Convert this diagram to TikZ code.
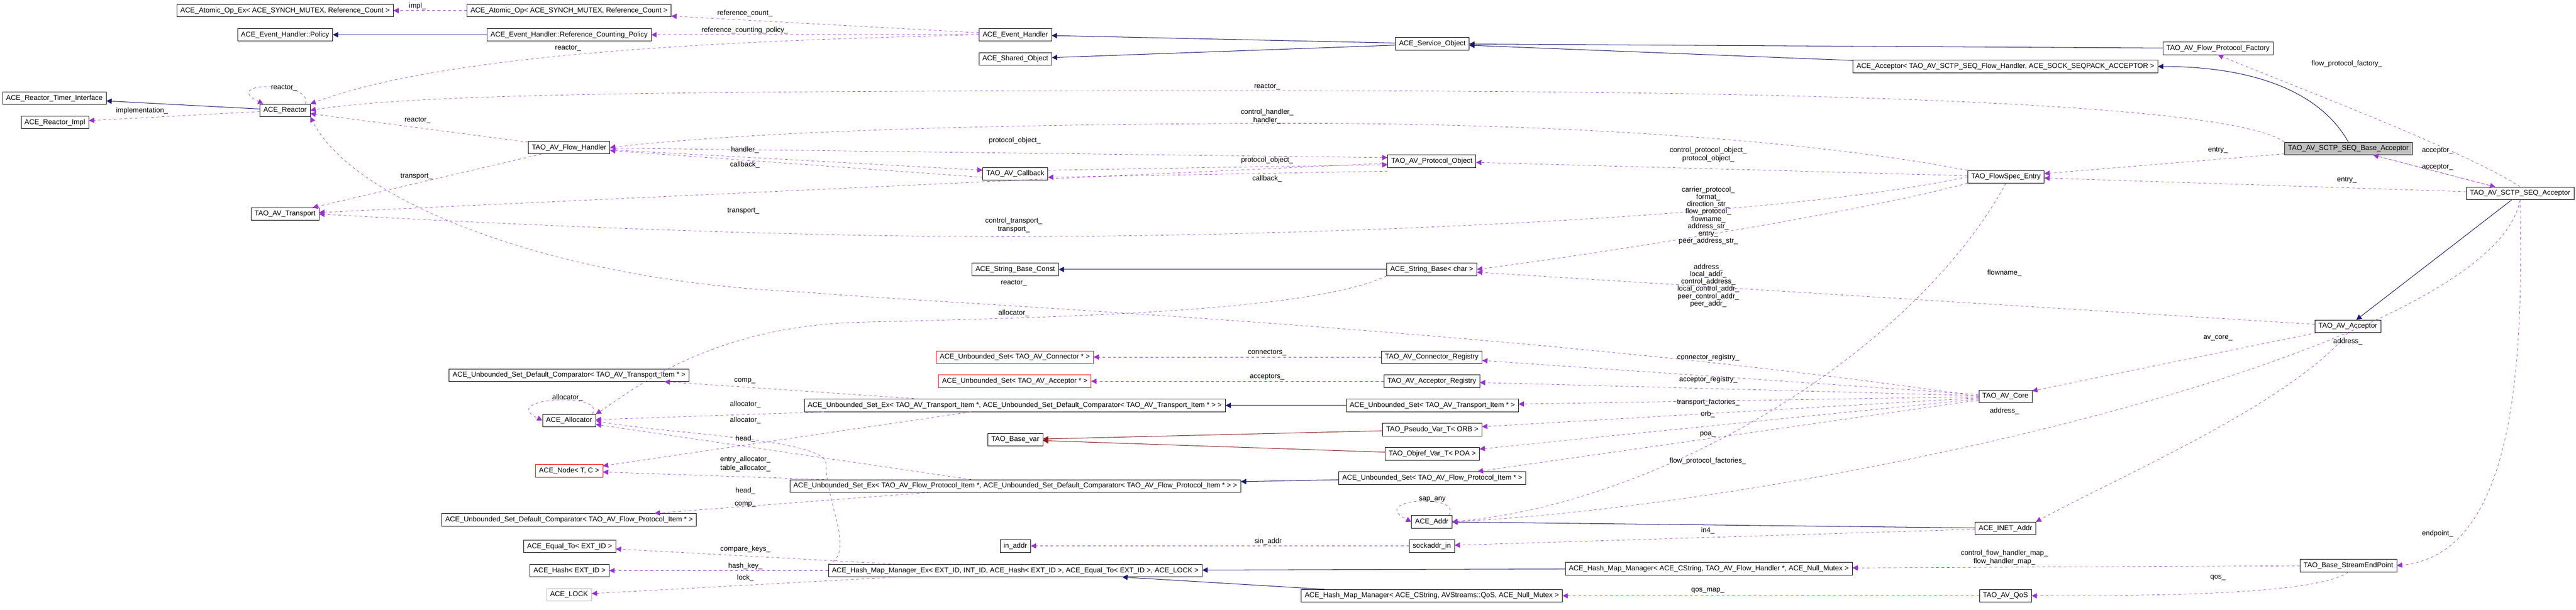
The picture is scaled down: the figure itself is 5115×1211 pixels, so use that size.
\documentclass[tikz,border=0pt]{standalone}
\usepackage{fontspec}
\setmainfont{Liberation Sans}
\usetikzlibrary{arrows.meta}
\definecolor{usecol}{HTML}{9A32CD}
\definecolor{inhcol}{HTML}{191970}
\definecolor{tplcol}{HTML}{8B1A1A}
\begin{document}
\begin{tikzpicture}[x=0.02cm, y=-0.02cm,
    every node/.style={font=\fontsize{8}{9.5}\selectfont},
    cls/.style={rectangle, draw, inner xsep=4pt, inner ysep=0pt, minimum height=0.5cm},
    redcls/.style={cls, draw=red},
    greycls/.style={cls, draw=gray!60},
    lbl/.style={align=center, inner sep=0pt},
    usage/.style={draw=usecol, dashed, -{Triangle[length=6pt,width=6pt]}, fill=none},
    inherit/.style={draw=inhcol, semithick, -{Triangle[length=6pt,width=6pt]}},
    templ/.style={draw=tplcol, semithick, -{Triangle[length=6pt,width=6pt]}}]

    \useasboundingbox (0,0) rectangle (5115,1211);

    % Left column
    \node (atomicex) [cls] at (566,21) {ACE\_Atomic\_Op\_Ex< ACE\_SYNCH\_MUTEX, Reference\_Count >};
    \node (policy) [cls] at (566,69) {ACE\_Event\_Handler::Policy};
    \node (timerif) [cls] at (108,195) {ACE\_Reactor\_Timer\_Interface};
    \node (reactorimpl) [cls] at (109,243) {ACE\_Reactor\_Impl};
    \node (reactor) [cls] at (566,219) {ACE\_Reactor};
    \node (transport) [cls] at (566,425) {TAO\_AV\_Transport};

    % Second column
    \node (atomic) [cls] at (1130,21) {ACE\_Atomic\_Op< ACE\_SYNCH\_MUTEX, Reference\_Count >};
    \node (refpolicy) [cls] at (1130,69) {ACE\_Event\_Handler::Reference\_Counting\_Policy};
    \node (flowhandler) [cls] at (1130,293) {TAO\_AV\_Flow\_Handler};
    \node (compt) [cls] at (1130,745) {ACE\_Unbounded\_Set\_Default\_Comparator< TAO\_AV\_Transport\_Item * >};
    \node (alloc) [cls] at (1130,835) {ACE\_Allocator};
    \node (nodetc) [redcls] at (1130,935) {ACE\_Node< T, C >};
    \node (compf) [cls] at (1130,1032) {ACE\_Unbounded\_Set\_Default\_Comparator< TAO\_AV\_Flow\_Protocol\_Item * >};
    \node (equal) [cls] at (1131,1085) {ACE\_Equal\_To< EXT\_ID >};
    \node (hash) [cls] at (1131,1133) {ACE\_Hash< EXT\_ID >};
    \node (lock) [greycls] at (1130,1181) {ACE\_LOCK};

    % Third column
    \node (evh) [cls] at (2016,69) {ACE\_Event\_Handler};
    \node (shared) [cls] at (2016,117) {ACE\_Shared\_Object};
    \node (callback) [cls] at (2016,345) {TAO\_AV\_Callback};
    \node (strconst) [cls] at (2016,535) {ACE\_String\_Base\_Const};
    \node (connset) [redcls] at (2015,709) {ACE\_Unbounded\_Set< TAO\_AV\_Connector * >};
    \node (accset) [redcls] at (2015,757) {ACE\_Unbounded\_Set< TAO\_AV\_Acceptor * >};
    \node (trsetex) [cls] at (2015,805) {ACE\_Unbounded\_Set\_Ex< TAO\_AV\_Transport\_Item *, ACE\_Unbounded\_Set\_Default\_Comparator< TAO\_AV\_Transport\_Item * > >};
    \node (basevar) [cls] at (2016,873) {TAO\_Base\_var};
    \node (flsetex) [cls] at (2016,965) {ACE\_Unbounded\_Set\_Ex< TAO\_AV\_Flow\_Protocol\_Item *, ACE\_Unbounded\_Set\_Default\_Comparator< TAO\_AV\_Flow\_Protocol\_Item * > >};
    \node (inaddr) [cls] at (2016,1084) {in\_addr};
    \node (hmex) [cls] at (2016,1133) {ACE\_Hash\_Map\_Manager\_Ex< EXT\_ID, INT\_ID, ACE\_Hash< EXT\_ID >, ACE\_Equal\_To< EXT\_ID >, ACE\_LOCK >};

    % Fourth column
    \node (svc) [cls] at (2844,87) {ACE\_Service\_Object};
    \node (protobj) [cls] at (2843,320) {TAO\_AV\_Protocol\_Object};
    \node (strbase) [cls] at (2843,535) {ACE\_String\_Base< char >};
    \node (conreg) [cls] at (2843,709) {TAO\_AV\_Connector\_Registry};
    \node (accreg) [cls] at (2843,757) {TAO\_AV\_Acceptor\_Registry};
    \node (trset) [cls] at (2844,805) {ACE\_Unbounded\_Set< TAO\_AV\_Transport\_Item * >};
    \node (pseudo) [cls] at (2844,853) {TAO\_Pseudo\_Var\_T< ORB >};
    \node (objref) [cls] at (2844,901) {TAO\_Objref\_Var\_T< POA >};
    \node (flset) [cls] at (2844,949) {ACE\_Unbounded\_Set< TAO\_AV\_Flow\_Protocol\_Item * >};
    \node (addr) [cls] at (2843,1036) {ACE\_Addr};
    \node (sockin) [cls] at (2843,1084) {sockaddr\_in};
    \node (hmqos) [cls] at (2843,1183) {ACE\_Hash\_Map\_Manager< ACE\_CString, AVStreams::QoS, ACE\_Null\_Mutex >};
    \node (hmfh) [cls] at (3393,1129) {ACE\_Hash\_Map\_Manager< ACE\_CString, TAO\_AV\_Flow\_Handler *, ACE\_Null\_Mutex >};

    % Right part
    \node (acctmpl) [cls] at (3982,132) {ACE\_Acceptor< TAO\_AV\_SCTP\_SEQ\_Flow\_Handler, ACE\_SOCK\_SEQPACK\_ACCEPTOR >};
    \node (fsentry) [cls] at (3983,351) {TAO\_FlowSpec\_Entry};
    \node (avcore) [cls] at (3982,787) {TAO\_AV\_Core};
    \node (inet) [cls] at (3982,1049) {ACE\_INET\_Addr};
    \node (qos) [cls] at (3982,1183) {TAO\_AV\_QoS};
    \node (factory) [cls] at (4404,96) {TAO\_AV\_Flow\_Protocol\_Factory};
    \node (baseacc) [cls, fill=gray!50] at (4663,295) {TAO\_AV\_SCTP\_SEQ\_Base\_Acceptor};
    \node (avacc) [cls] at (4662,648) {TAO\_AV\_Acceptor};
    \node (endpoint) [cls] at (4663,1123) {TAO\_Base\_StreamEndPoint};
    \node (sctpacc) [cls] at (5004,384) {TAO\_AV\_SCTP\_SEQ\_Acceptor};

    % Inheritance
    \draw[inherit] (refpolicy) -- (policy);
    \draw[inherit] (reactor) -- (timerif);
    \draw[inherit] (svc) -- (evh);
    \draw[inherit] (svc) -- (shared);
    \draw[inherit] (factory) -- (svc);
    \draw[inherit] (acctmpl) -- (svc);
    \draw[inherit] (baseacc.north) .. controls (4600,170) and (4450,132) .. (acctmpl.east);
    \draw[inherit] (sctpacc) -- (avacc);
    \draw[inherit] (strbase) -- (strconst);
    \draw[inherit] (trset) -- (trsetex);
    \draw[inherit] (flset) -- (flsetex);
    \draw[inherit] (inet) -- (addr);
    \draw[inherit] (hmfh) -- (hmex);
    \draw[inherit] (hmqos) -- (hmex);
    \draw[templ] (pseudo) -- (basevar);
    \draw[templ] (objref) -- (basevar);

    % Usage
    \draw[usage] (atomic) -- (atomicex);
    \draw[usage] (evh) -- (atomic);
    \draw[usage] (evh) -- (refpolicy);
    \draw[usage] (evh.west) .. controls (1500,80) and (900,100) .. (reactor.north east);
    \draw[usage] ([xshift=-6pt]reactor.north east) .. controls +(20,-45) and +(-90,-45) .. ([xshift=4pt]reactor.north west);
    \draw[usage] (reactor) -- (reactorimpl);
    \draw[usage] (baseacc.north west) .. controls (4400,180) and (3000,180) .. (2400,180) .. controls (1200,180) and (800,190) .. (reactor.east);
    \draw[usage] (flowhandler) -- (reactor);
    \draw[usage] (avcore.west) .. controls (3000,650) and (1800,600) .. (1600,580) .. controls (1100,560) and (700,400) .. (reactor.south east);
    \draw[usage] (flowhandler) -- (transport);
    \draw[usage] (protobj) -- (transport);
    \draw[usage] (fsentry.west) .. controls (3500,440) and (2500,470) .. (2000,470) .. controls (1500,470) and (900,440) .. (transport.east);
    \draw[usage] (fsentry.north west) .. controls (3500,260) and (2900,245) .. (2600,245) .. controls (2000,245) and (1500,260) .. (flowhandler.east);
    \draw[usage] ([yshift=-4pt]callback.west) -- (flowhandler);
    \draw[usage] (flowhandler) -- ([yshift=4pt]protobj.west);
    \draw[usage] (flowhandler) -- ([yshift=4pt]callback.west);
    \draw[usage] ([yshift=4pt]callback.east) -- ([yshift=-4pt]protobj.west);
    \draw[usage] ([yshift=-4pt]protobj.south west) -- ([yshift=-4pt]callback.east);
    \draw[usage] (fsentry) -- (protobj);
    \draw[usage] (fsentry.south west) .. controls (3700,420) and (3200,500) .. (strbase.east);
    \draw[usage] (fsentry.south) .. controls (3800,700) and (3300,1000) .. (addr.east);
    \draw[usage] (baseacc) -- (fsentry);
    \draw[usage] (sctpacc) -- (fsentry);
    \draw[usage] (sctpacc) -- (baseacc);
    \draw[usage] (baseacc) -- (sctpacc);
    \draw[usage] (sctpacc.north) .. controls (4900,300) and (4500,150) .. (factory.south);
    \draw[usage] (avacc) -- (strbase);
    \draw[usage] (avacc) -- (avcore);
    \draw[usage] (avacc.south) .. controls (4550,800) and (4200,950) .. (inet.north east);
    \draw[usage] (sctpacc.south) .. controls (4950,700) and (3600,1000) .. (addr.east);
    \draw[usage] (sctpacc.south) .. controls (5010,700) and (5000,1100) .. (endpoint.east);
    \draw[usage] (endpoint) -- (hmfh);
    \draw[usage] (endpoint.south) .. controls (4600,1180) and (4300,1183) .. (qos.east);
    \draw[usage] (qos) -- (hmqos);
    \draw[usage] (inet) -- (sockin);
    \draw[usage] (sockin) -- (inaddr);
    \draw[usage] ([xshift=-4pt]addr.north east) .. controls +(30,-45) and +(-90,-45) .. (addr.west);
    \draw[usage] (avcore) -- (conreg);
    \draw[usage] (avcore) -- (accreg);
    \draw[usage] (avcore) -- (trset);
    \draw[usage] (avcore) -- (pseudo);
    \draw[usage] (avcore) -- (objref);
    \draw[usage] (avcore) -- (flset);
    \draw[usage] (conreg) -- (connset);
    \draw[usage] (accreg) -- (accset);
    \draw[usage] (strbase.south west) .. controls (2600,620) and (2100,630) .. (1700,640) .. controls (1400,650) and (1250,780) .. (alloc.north east);
    \draw[usage] ([xshift=-4pt]alloc.north east) .. controls +(30,-45) and +(-90,-45) .. (alloc.west);
    \draw[usage] (trsetex) -- (alloc);
    \draw[usage] (flsetex) -- (alloc);
    \draw[usage] (hmex.north west) .. controls (1700,1100) and (1640,1000) .. (1640,920) .. controls (1640,870) and (1300,860) .. (alloc.east);
    \draw[usage] (trsetex) -- (nodetc);
    \draw[usage] (flsetex) -- (nodetc);
    \draw[usage] (trsetex) -- (compt);
    \draw[usage] (flsetex) -- (compf);
    \draw[usage] (hmex) -- (equal);
    \draw[usage] (hmex) -- (hash);
    \draw[usage] (hmex) -- (lock);

    % Labels
    \node[lbl] at (829,12) {impl\_};
    \node[lbl] at (1479,26) {reference\_count\_};
    \node[lbl] at (1479,60) {reference\_counting\_policy\_};
    \node[lbl] at (1128,96) {reactor\_};
    \node[lbl] at (564,174) {reactor\_};
    \node[lbl] at (282,220) {implementation\_};
    \node[lbl] at (2516,172) {reactor\_};
    \node[lbl] at (829,239) {reactor\_};
    \node[lbl] at (2013,562) {reactor\_};
    \node[lbl] at (827,350) {transport\_};
    \node[lbl] at (1476,419) {transport\_};
    \node[lbl] at (2013,447) {control\_transport\_\\transport\_};
    \node[lbl] at (2516,231) {control\_handler\_\\handler\_};
    \node[lbl] at (1479,298) {handler\_};
    \node[lbl] at (2015,279) {protocol\_object\_};
    \node[lbl] at (1479,327) {callback\_};
    \node[lbl] at (2516,318) {protocol\_object\_};
    \node[lbl] at (2516,355) {callback\_};
    \node[lbl] at (3392,307) {control\_protocol\_object\_\\protocol\_object\_};
    \node[lbl, font=\fontsize{8}{8.3}\selectfont] at (3392,428) {carrier\_protocol\_\\format\_\\direction\_str\_\\flow\_protocol\_\\flowname\_\\address\_str\_\\entry\_\\peer\_address\_str\_};
    \node[lbl, font=\fontsize{8}{8.3}\selectfont] at (3392,567) {address\_\\local\_addr\_\\control\_address\_\\local\_control\_addr\_\\peer\_control\_addr\_\\peer\_addr\_};
    \node[lbl] at (4404,298) {entry\_};
    \node[lbl] at (4660,358) {entry\_};
    \node[lbl] at (4840,299) {acceptor\_};
    \node[lbl] at (4840,332) {acceptor\_};
    \node[lbl] at (4660,127) {flow\_protocol\_factory\_};
    \node[lbl] at (3980,542) {flowname\_};
    \node[lbl] at (4404,671) {av\_core\_};
    \node[lbl] at (4662,678) {address\_};
    \node[lbl] at (3980,816) {address\_};
    \node[lbl] at (4840,1060) {endpoint\_};
    \node[lbl] at (3980,1107) {control\_flow\_handler\_map\_\\flow\_handler\_map\_};
    \node[lbl] at (4404,1147) {qos\_};
    \node[lbl] at (3391,1173) {qos\_map\_};
    \node[lbl] at (3391,1054) {in4\_};
    \node[lbl] at (2518,1075) {sin\_addr};
    \node[lbl] at (2844,991) {sap\_any};
    \node[lbl] at (3392,710) {connector\_registry\_};
    \node[lbl] at (3392,754) {acceptor\_registry\_};
    \node[lbl] at (3392,799) {transport\_factories\_};
    \node[lbl] at (3391,822) {orb\_};
    \node[lbl] at (3391,863) {poa\_};
    \node[lbl] at (3391,916) {flow\_protocol\_factories\_};
    \node[lbl] at (2516,700) {connectors\_};
    \node[lbl] at (2516,748) {acceptors\_};
    \node[lbl] at (2013,622) {allocator\_};
    \node[lbl] at (1127,790) {allocator\_};
    \node[lbl] at (1479,756) {comp\_};
    \node[lbl] at (1480,803) {allocator\_};
    \node[lbl] at (1480,835) {allocator\_};
    \node[lbl] at (1480,871) {head\_};
    \node[lbl] at (1480,921) {entry\_allocator\_\\table\_allocator\_};
    \node[lbl] at (1480,975) {head\_};
    \node[lbl] at (1480,1002) {comp\_};
    \node[lbl] at (1480,1090) {compare\_keys\_};
    \node[lbl] at (1480,1124) {hash\_key\_};
    \node[lbl] at (1480,1148) {lock\_};

\end{tikzpicture}
\end{document}
